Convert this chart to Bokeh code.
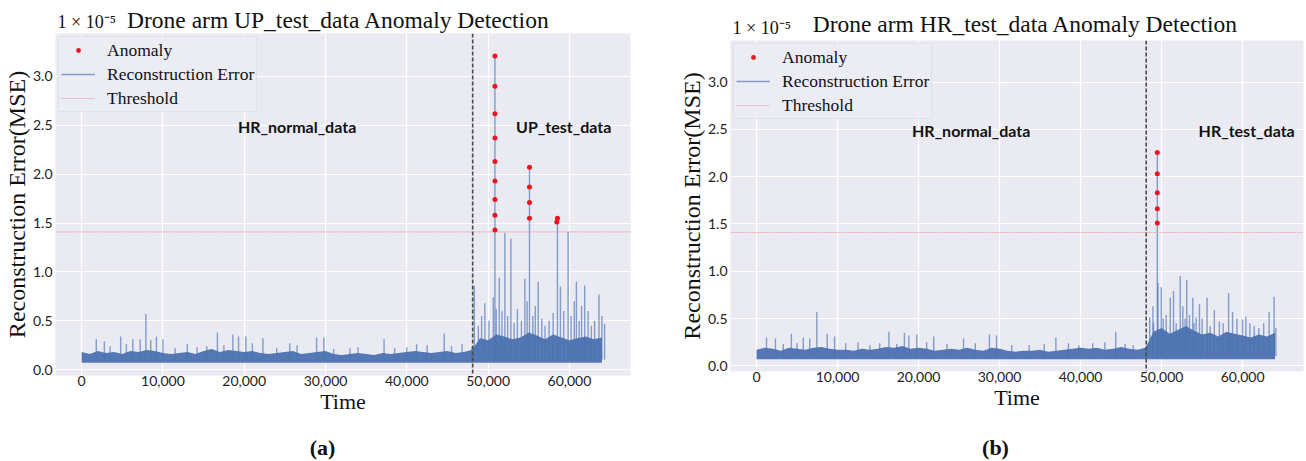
from bokeh.plotting import figure
from bokeh.models import Range1d, FixedTicker, NumeralTickFormatter, Label, Legend, LegendItem, Span
from bokeh.layouts import row, column
from bokeh.embed import file_html
from bokeh.resources import INLINE
from bokeh.core.properties import value

# ---------------- data (values in units of 1e-5) ----------------
x_limits = [-3215, 67515]
y_limits = [-0.06, 3.44]
x_ticks = [0, 10000, 20000, 30000, 40000, 50000, 60000]
y_ticks = [0.0, 0.5, 1.0, 1.5, 2.0, 2.5, 3.0]
threshold = 1.41
split_time = 48100
band_floor = 0.07
spike_base = 0.10

band_t = list(range(0, 65000, 1000))

# ---- panel (a): UP test data
band_hi_a = [0.18, 0.16, 0.19, 0.17, 0.18, 0.16, 0.19, 0.18, 0.20, 0.19, 0.17,
             0.16, 0.17, 0.18, 0.16, 0.19, 0.21, 0.18, 0.20, 0.19, 0.18,
             0.19, 0.17, 0.16, 0.17, 0.18, 0.19, 0.16, 0.17, 0.18, 0.19,
             0.16, 0.15, 0.16, 0.17, 0.16, 0.15, 0.17, 0.16, 0.17, 0.18,
             0.19, 0.18, 0.17, 0.18, 0.19, 0.17, 0.18, 0.20,
             0.32, 0.30, 0.36, 0.34, 0.31, 0.33, 0.38, 0.35, 0.31, 0.36, 0.33, 0.30, 0.32, 0.34, 0.31, 0.33]
spike_t_a = [1800, 2800, 3500, 4800, 5500, 6300, 7200, 7900, 8500, 9200, 10000, 11500, 13000, 14200,
             15400, 16700, 17500, 18600, 19300, 20200, 21000, 22300, 24000, 25600, 26500, 28900,
             29800, 31000, 33000, 34000, 37200, 38500, 40000, 41200, 42500, 44600, 45500, 46800, 48000,
             48300, 48800, 49200, 49600, 50100, 50640, 50840, 51000, 51370, 51700, 52060, 52400, 52800,
             53200, 53600, 54100, 54520, 54800, 55090, 55500, 55800, 56160, 56600, 57000, 57500, 58000,
             58530, 58900, 59300, 59840, 60200, 60600, 60860, 61200, 61500, 61880, 62300, 62700, 63100,
             63640, 64000, 64330]
spike_v_a = [0.31, 0.29, 0.24, 0.34, 0.26, 0.31, 0.31, 0.57, 0.30, 0.34, 0.31, 0.22, 0.26, 0.23,
             0.24, 0.38, 0.25, 0.36, 0.34, 0.34, 0.27, 0.32, 0.22, 0.27, 0.25, 0.33,
             0.33, 0.21, 0.22, 0.23, 0.31, 0.22, 0.23, 0.26, 0.25, 0.37, 0.24, 0.26, 0.23,
             0.86, 0.45, 0.55, 0.68, 0.50, 0.74, 3.21, 0.62, 0.94, 0.60, 1.40, 0.55, 1.34,
             0.48, 0.62, 0.50, 0.93, 0.70, 2.07, 0.55, 0.65, 0.90, 0.52, 0.45, 0.50, 0.58,
             1.55, 0.85, 0.60, 1.41, 0.55, 0.70, 0.90, 0.50, 0.65, 0.86, 0.60, 0.45, 0.50,
             0.77, 0.55, 0.47]
anom_t_a = [50840, 50840, 50840, 50840, 50840, 50840, 50840, 50840, 50840,
            55090, 55090, 55090, 55090, 58530, 58450]
anom_v_a = [3.21, 2.90, 2.62, 2.37, 2.13, 1.93, 1.74, 1.58, 1.43,
            2.07, 1.87, 1.71, 1.55, 1.55, 1.51]

# ---- panel (b): HR test data
band_hi_b = [0.17, 0.19, 0.18, 0.16, 0.19, 0.18, 0.17, 0.19, 0.20, 0.18, 0.17,
             0.17, 0.16, 0.18, 0.17, 0.18, 0.20, 0.19, 0.21, 0.18, 0.19,
             0.18, 0.16, 0.17, 0.18, 0.17, 0.19, 0.17, 0.16, 0.19, 0.18,
             0.16, 0.15, 0.16, 0.16, 0.17, 0.15, 0.16, 0.17, 0.18, 0.19,
             0.18, 0.19, 0.17, 0.18, 0.20, 0.18, 0.17, 0.19,
             0.36, 0.40, 0.34, 0.38, 0.42, 0.37, 0.33, 0.35, 0.31, 0.36, 0.34, 0.32, 0.30, 0.33, 0.31, 0.35]
spike_t_b = [1230, 2330, 3300, 4300, 5000, 5770, 6570, 7440, 8720, 9630, 11000, 12530, 14000,
             15200, 16340, 17300, 18250, 18800, 19780, 21000, 21870, 23500, 25550, 27000, 28750,
             29620, 31500, 33650, 35500, 36950, 38500, 39780, 41500, 43000, 44340, 45500, 46500,
             48530, 48930, 49000, 49470, 49550, 49960, 50200, 50570, 51070, 51470, 51800, 52300,
             52620, 52900, 53110, 53440, 53850, 54000, 54260, 54670, 55000, 55610, 56000, 56510,
             57130, 57600, 58270, 58760, 59300, 59990, 60400, 60900, 61430, 62000, 62600, 63270,
             63880, 64100]
spike_v_b = [0.30, 0.29, 0.23, 0.34, 0.24, 0.30, 0.29, 0.57, 0.34, 0.31, 0.24, 0.25, 0.22,
             0.24, 0.36, 0.23, 0.35, 0.32, 0.33, 0.25, 0.31, 0.23, 0.29, 0.24, 0.33,
             0.32, 0.22, 0.22, 0.23, 0.30, 0.24, 0.22, 0.24, 0.25, 0.36, 0.23, 0.22,
             0.51, 0.63, 0.45, 2.255, 0.875, 0.83, 0.50, 0.54, 0.72, 0.79, 0.45, 0.95,
             0.63, 0.50, 0.91, 0.54, 0.72, 0.45, 0.51, 0.65, 0.50, 0.72, 0.42, 0.59,
             0.47, 0.45, 0.77, 0.57, 0.50, 0.49, 0.52, 0.45, 0.42, 0.40, 0.45, 0.57,
             0.73, 0.40]
anom_t_b = [49470, 49470, 49470, 49470, 49470]
anom_v_b = [2.255, 2.03, 1.83, 1.66, 1.51]

titles = ["Drone arm UP_test_data Anomaly Detection", "Drone arm HR_test_data Anomaly Detection"]
offset_text = "1 \u00d7 10\u207b\u2075"
captions = ["(a)", "(b)"]

BLUE = "#4c72b0"
BG = "#eaeaf2"
SERIF = "Liberation Serif"
SANS = "Lato"


def blank(frame_w, height, bl, br):
    # strip whose frame lines up with the panel frame below/above it
    f = figure(frame_width=frame_w, frame_height=height,
               x_range=Range1d(0, frame_w), y_range=Range1d(0, height),
               x_axis_type=None, y_axis_type=None, output_backend="svg", toolbar_location=None,
               min_border_left=bl, min_border_right=br, min_border_top=0, min_border_bottom=0)
    f.outline_line_color = None
    f.grid.visible = False
    f.background_fill_color = "white"
    f.border_fill_color = "white"
    return f


def header(frame_w, height, bl, br, title, title_x, title_y, off_x, off_y):
    h = blank(frame_w, height, bl, br)
    h.text(x=[title_x], y=[title_y], text=[title], text_font=value(SERIF), text_font_size="23.5px",
           text_align="center", text_baseline="alphabetic", text_color="#111111")
    h.text(x=[off_x], y=[off_y], text=[offset_text], text_font=value(SERIF), text_font_size="18px",
           text_align="left", text_baseline="alphabetic", text_color="#111111")
    return h


def footer(frame_w, height, bl, br, caption, cx, cy):
    f = blank(frame_w, height, bl, br)
    f.text(x=[cx], y=[cy], text=[caption], text_font=value(SERIF), text_font_size="22px",
           text_font_style="bold", text_align="center", text_baseline="middle", text_color="#111111")
    return f


def make_panel(band_hi, spike_t, spike_v, anom_t, anom_v, left_text, right_text, right_x,
               border_left, border_right, frame_w, frame_h, border_bottom):
    p = figure(frame_width=frame_w, frame_height=frame_h,
               x_range=Range1d(*x_limits), y_range=Range1d(*y_limits),
               output_backend="svg", toolbar_location=None,
               min_border_left=border_left, min_border_right=border_right,
               min_border_top=0, min_border_bottom=border_bottom)
    p.background_fill_color = BG
    p.border_fill_color = "white"
    p.outline_line_color = None

    for ax in (p.xaxis[0], p.yaxis[0]):
        ax.axis_line_color = None
        ax.major_tick_line_color = None
        ax.minor_tick_line_color = None
        ax.major_tick_out = 0
        ax.major_tick_in = 0
        ax.minor_tick_out = 0
        ax.minor_tick_in = 0
        ax.major_label_text_font = SANS
        ax.major_label_text_font_size = "14px"
        ax.major_label_text_color = "#222222"
        ax.axis_label_text_font = SERIF
        ax.axis_label_text_font_style = "normal"
        ax.axis_label_text_color = "#111111"
    p.xaxis[0].ticker = FixedTicker(ticks=x_ticks)
    p.yaxis[0].ticker = FixedTicker(ticks=y_ticks)
    p.xaxis[0].formatter = NumeralTickFormatter(format="0,0")
    p.yaxis[0].formatter = NumeralTickFormatter(format="0.0")
    p.xaxis[0].axis_label = "Time"
    p.yaxis[0].axis_label = "Reconstruction Error(MSE)"
    p.xaxis[0].axis_label_text_font_size = "22px"
    p.yaxis[0].axis_label_text_font_size = "24px"
    p.xaxis[0].major_label_standoff = 0
    p.yaxis[0].major_label_standoff = 3
    p.xaxis[0].axis_label_standoff = 0
    p.yaxis[0].axis_label_standoff = 0

    p.xgrid[0].ticker = FixedTicker(ticks=x_ticks)
    p.ygrid[0].ticker = FixedTicker(ticks=y_ticks)
    p.grid.grid_line_color = "white"
    p.grid.grid_line_width = 1.2

    # dense band of the reconstruction error
    p.varea(x=band_t, y1=[band_floor] * len(band_t), y2=band_hi, fill_color=BLUE, fill_alpha=0.95)
    spikes = p.segment(x0=spike_t, y0=[spike_base] * len(spike_t), x1=spike_t, y1=spike_v,
                       line_color=BLUE, line_alpha=0.65, line_width=1.4)
    thr = p.line(x=x_limits, y=[threshold, threshold], line_color="#e6a0a6", line_alpha=0.8,
                 line_width=1.2, line_dash="2 1")
    dots = p.scatter(x=anom_t, y=anom_v, size=5, color="#f0141e", line_color=None)

    p.add_layout(Span(location=split_time, dimension="height", line_color="#4a4a4a",
                      line_width=1.6, line_dash="4 2"))

    legend = Legend(items=[LegendItem(label="Anomaly", renderers=[dots]),
                           LegendItem(label="Reconstruction Error", renderers=[spikes]),
                           LegendItem(label="Threshold", renderers=[thr])],
                    location="top_left", margin=3, padding=2, spacing=2,
                    label_height=22, glyph_height=12, glyph_width=34, label_standoff=12,
                    label_text_font=SERIF, label_text_font_size="17.5px", label_text_color="#111111",
                    background_fill_color="#ececf4", background_fill_alpha=0.9,
                    border_line_color="#d6d6e0", border_line_width=1)
    p.add_layout(legend)

    p.add_layout(Label(x=26500, y=2.49, text=left_text, text_font=SANS, text_font_style="bold",
                       text_font_size="16px", text_align="center", text_baseline="middle",
                       text_color="#111111"))
    p.add_layout(Label(x=right_x, y=2.49, text=right_text, text_font=SANS, text_font_style="bold",
                       text_font_size="16px", text_align="center", text_baseline="middle",
                       text_color="#111111"))
    return p


# panel (a): frame 55..630 px, top 33
ha = header(575, 33, 55, 20, titles[0], 283, 14, 2, 12)
pa = make_panel(band_hi_a, spike_t_a, spike_v_a, anom_t_a, anom_v_a,
                "HR_normal_data", "UP_test_data", 59300, 55, 20, 575, 342, 50)
fa = footer(575, 36, 55, 20, captions[0], 267, 14)

# panel (b): frame 80..653 px (of its own 656 px), top 40
hb = header(573, 40, 80, 3, titles[1], 295, 17, 2, 13)
pb = make_panel(band_hi_b, spike_t_b, spike_v_b, anom_t_b, anom_v_b,
                "HR_normal_data", "HR_test_data", 60500, 80, 3, 573, 331, 50)
fb = footer(573, 40, 80, 3, captions[1], 265, 14)

layout = row(column(ha, pa, fa, spacing=0), column(hb, pb, fb, spacing=0), spacing=0)
open("out.html", "w").write(file_html(layout, INLINE))
